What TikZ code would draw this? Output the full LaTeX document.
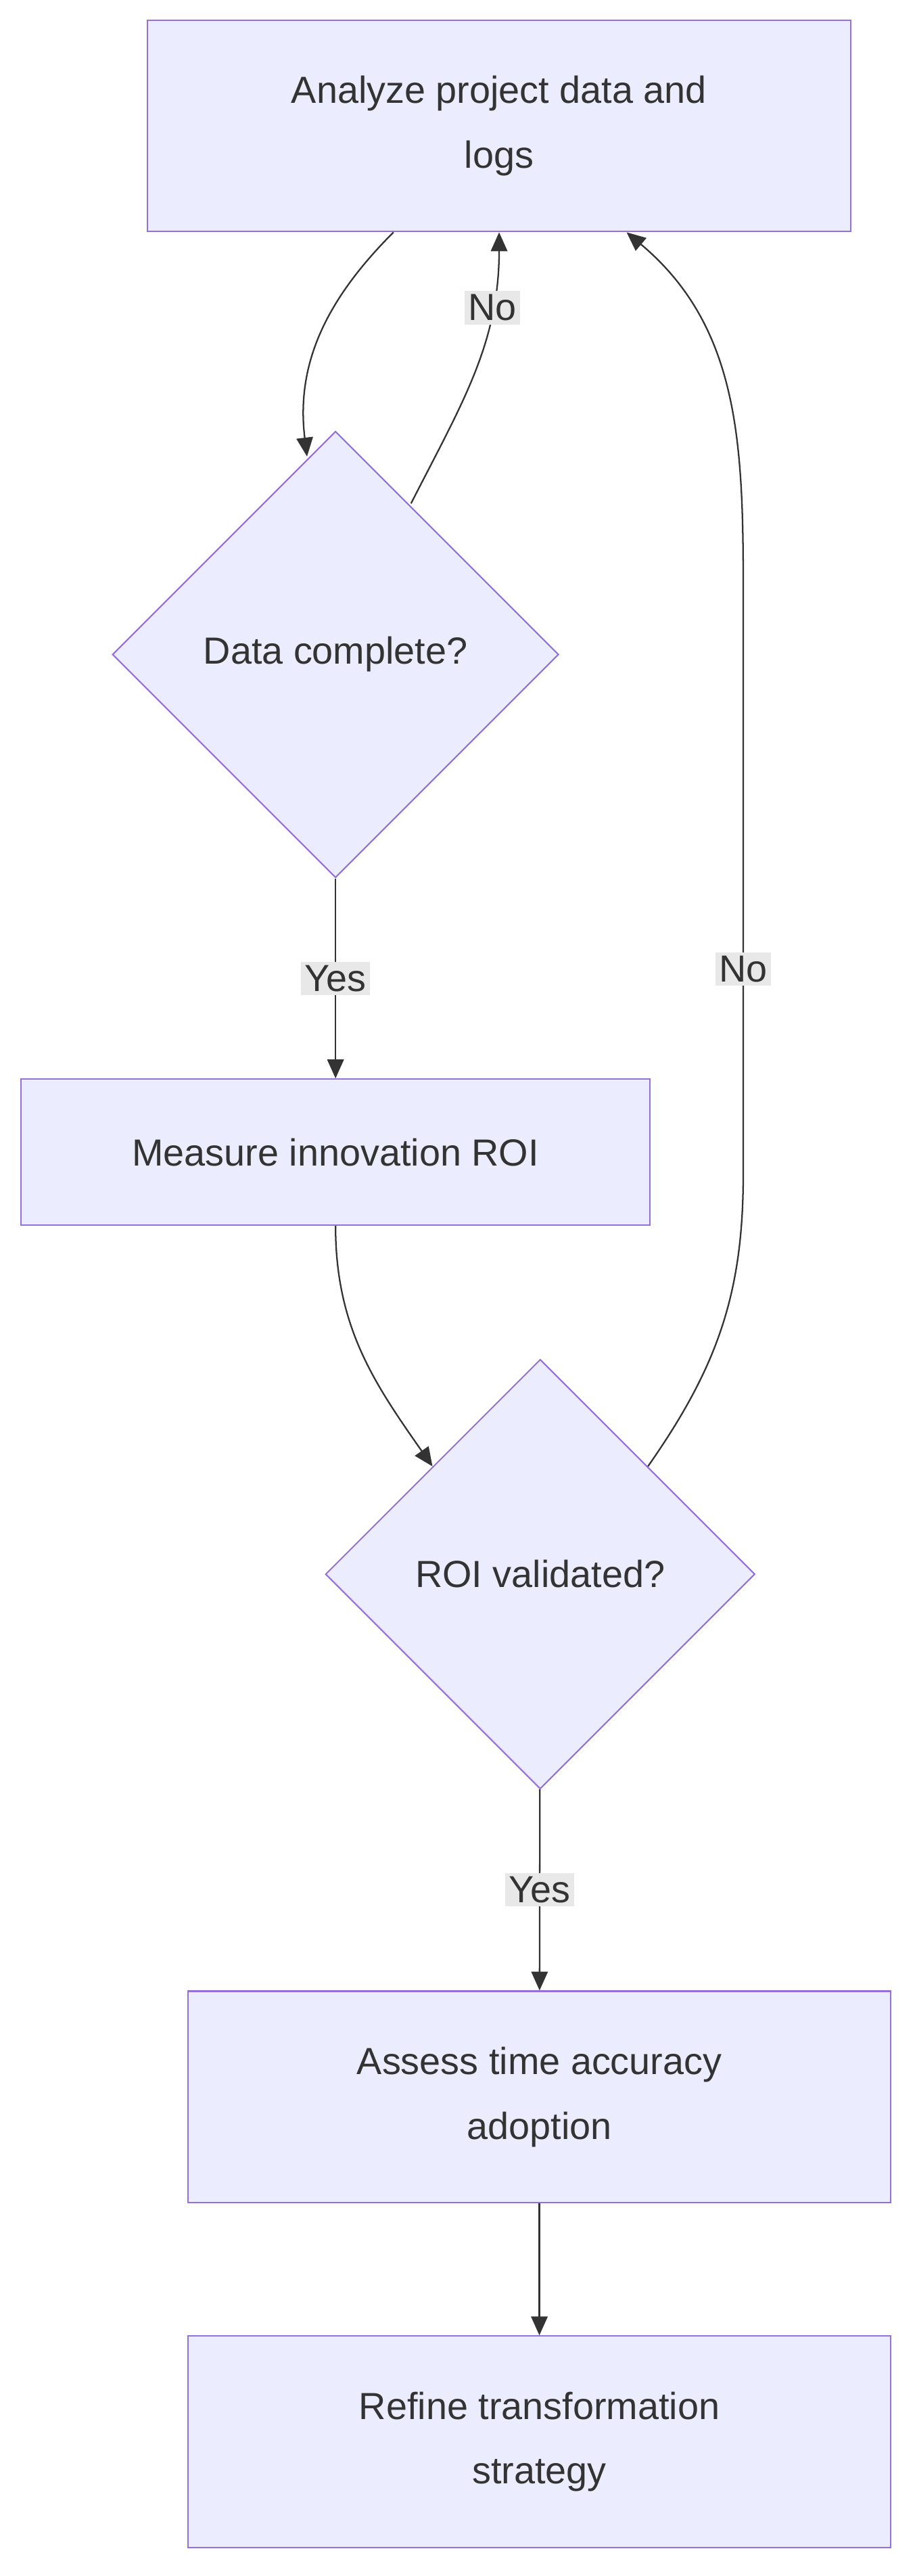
\documentclass[tikz,border=0pt]{standalone}
\usepackage{fontspec}
\setmainfont{Liberation Sans}
\usetikzlibrary{shapes.geometric,arrows.meta,positioning}
\definecolor{nodefill}{HTML}{ECECFF}
\definecolor{nodeline}{HTML}{9370DB}
\definecolor{edgecolor}{HTML}{333333}
\definecolor{labelgray}{HTML}{E8E8E8}
\begin{document}
\begin{tikzpicture}[x=0.05cm, y=-0.05cm,
  process/.style={rectangle, draw=nodeline, fill=nodefill, line width=1.2pt, minimum width=20.95cm, minimum height=6.3cm, align=center, text=edgecolor, font=\fontsize{32}{55}\selectfont},
  decision/.style={diamond, draw=nodeline, fill=nodefill, line width=1.2pt, minimum width=13.3cm, minimum height=13.3cm, inner sep=0pt, align=center, text=edgecolor, font=\fontsize{32}{55}\selectfont},
  flow/.style={draw=edgecolor, line width=1.3pt, -{Triangle[length=16pt,width=14pt]}},
  edgelabel/.style={fill=labelgray, inner sep=3pt, text=edgecolor, font=\fontsize{32}{40}\selectfont}
]
\useasboundingbox (0,0) rectangle (545,1535);

% Nodes
\node[process] (analyze) at (297.5,75) {Analyze project data and\\logs};
\node[decision] (complete) at (200,390) {Data complete?};
\node[process, minimum width=18.75cm, minimum height=4.35cm] (measure) at (200,686.5) {Measure innovation ROI};
\node[decision, minimum width=12.8cm, minimum height=12.8cm] (validated) at (322,938) {ROI validated?};
\node[process] (assess) at (321.5,1249.5) {Assess time accuracy\\adoption};
\node[process] (refine) at (321.5,1455) {Refine transformation\\strategy};

% Helper points for the long loop
\coordinate (loopbot) at (443,700);
\coordinate (looptop) at (443,350);

% Connections
\draw[flow] ([xshift=-3.15cm]analyze.south) to[out=225, in=97] ([shift={(-17,-118)}]complete.center);
\draw[flow] ([shift={(45,-90)}]complete.center) to[out=63, in=270] node[pos=0.75, edgelabel] {No} (analyze.south);
\draw[flow] (complete) -- node[edgelabel] {Yes} (measure);
\draw[flow] (measure.south) to[out=270, in=125] (validated.north west);
\draw[flow] (validated.north east) to[out=55, in=270] (loopbot) -- node[edgelabel, pos=0.35] {No} (looptop) to[out=90, in=-40] ([xshift=3.8cm]analyze.south);
\draw[flow] (validated) -- node[edgelabel] {Yes} (assess);
\draw[flow] (assess) -- (refine);
\end{tikzpicture}
\end{document}
